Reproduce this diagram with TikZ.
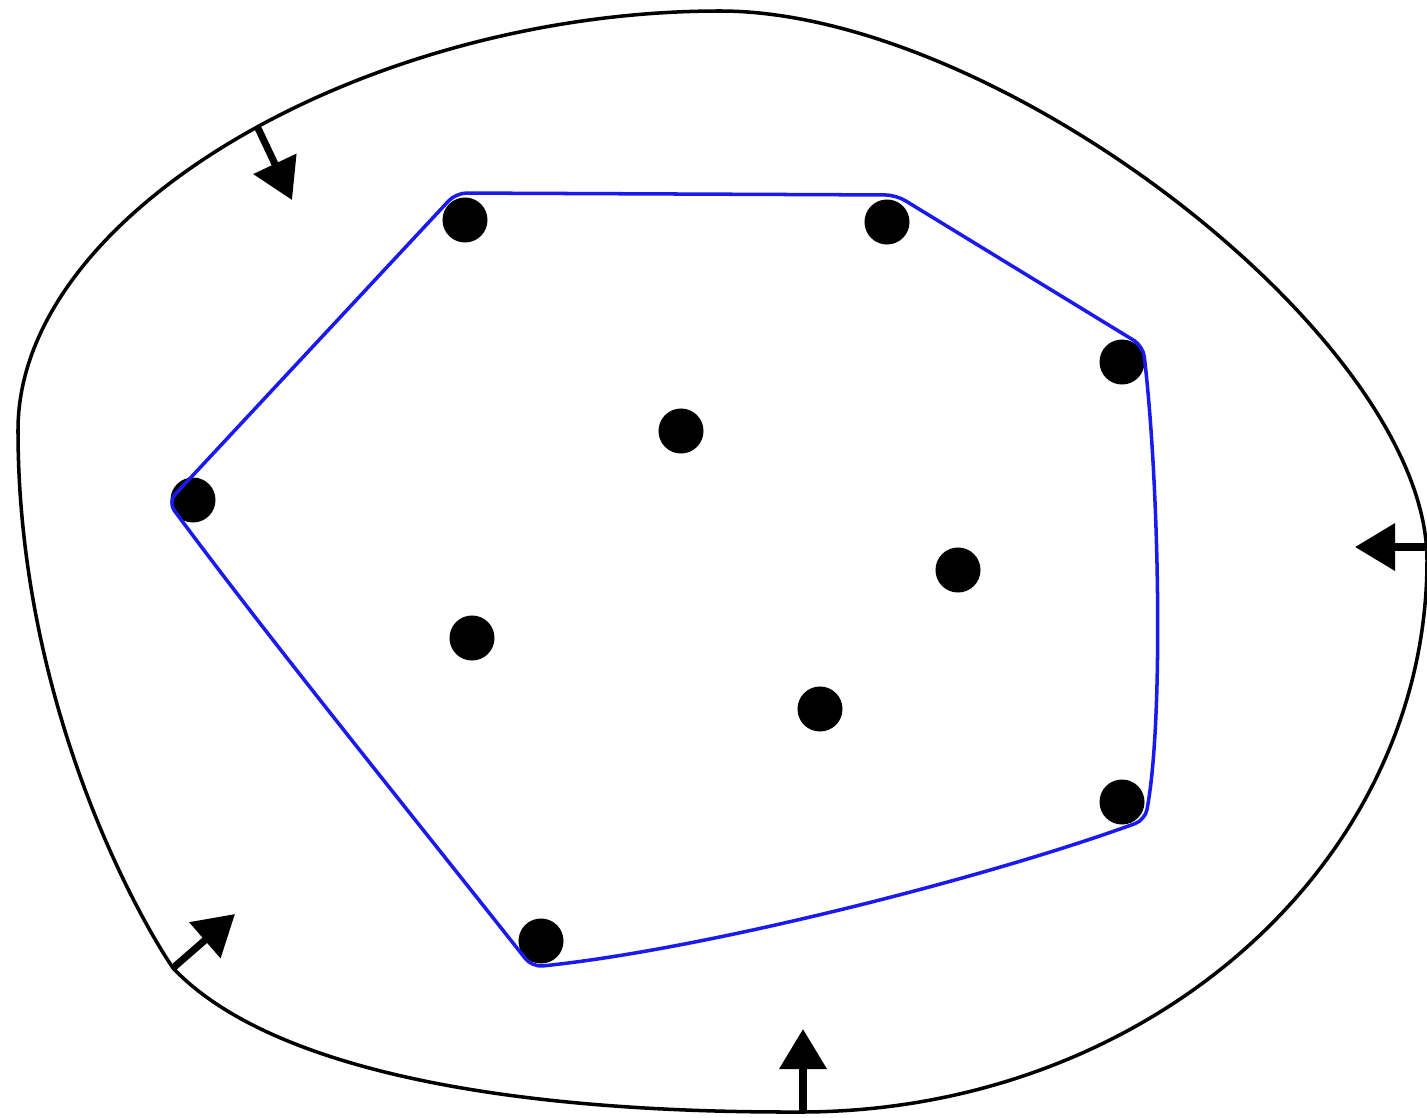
\documentclass[tikz,border=0pt]{standalone}
\usetikzlibrary{arrows.meta}
\definecolor{hullblue}{HTML}{1A1AF0}
\tikzset{
  every picture/.style={line width=1pt},
  pt/.style={circle, fill=black, inner sep=0pt, minimum size=4.5mm},
  hull/.style={draw=hullblue, line width=1pt, rounded corners=3pt},
  shrink/.style={-{Triangle[length=4mm, width=4.6mm]}, line width=2pt},
}
\begin{document}
\begin{tikzpicture}[x=0.01cm, y=-0.01cm]
  \useasboundingbox (0,0) rectangle (1427,1118);
  % the closed curve round everything
  \draw (720,11) .. controls (1000,11) and (1427,340) .. (1427,560)
    .. controls (1427,865) and (1146,1112) .. (800,1112)
    .. controls (480,1113) and (262,1062) .. (173,968)
    .. controls (135,912) and (18,700) .. (18,430)
    .. controls (18,210) and (370,11) .. cycle;
  % points
  \foreach \n/\x/\y in {p1/465/220, p2/887/222, p3/1122/362, p4/681/431, p5/193/500,
                        p6/958/570, p7/472/638, p8/820/709, p9/1122/802, p10/541/941}
    \node[pt] (\n) at (\x,\y) {};
  % convex hull
  \draw[hull] (456,193) -- (896,195) -- (1143,346)
    .. controls (1159,480) and (1164,720) .. (1145,820)
    .. controls (980,880) and (700,950) .. (532,967)
    .. controls (400,800) and (270,640) .. (168,502) -- cycle;
  % arrows pulling the curve in
  \coordinate (a1) at (257,126);  \coordinate (b1) at (292,200);
  \coordinate (a2) at (1427,547); \coordinate (b2) at (1355,547);
  \coordinate (a3) at (173,968);  \coordinate (b3) at (235,914);
  \coordinate (a4) at (803,1111); \coordinate (b4) at (803,1029);
  \foreach \i in {1,...,4}
    \draw[shrink] (a\i) -- (b\i);
\end{tikzpicture}
\end{document}
